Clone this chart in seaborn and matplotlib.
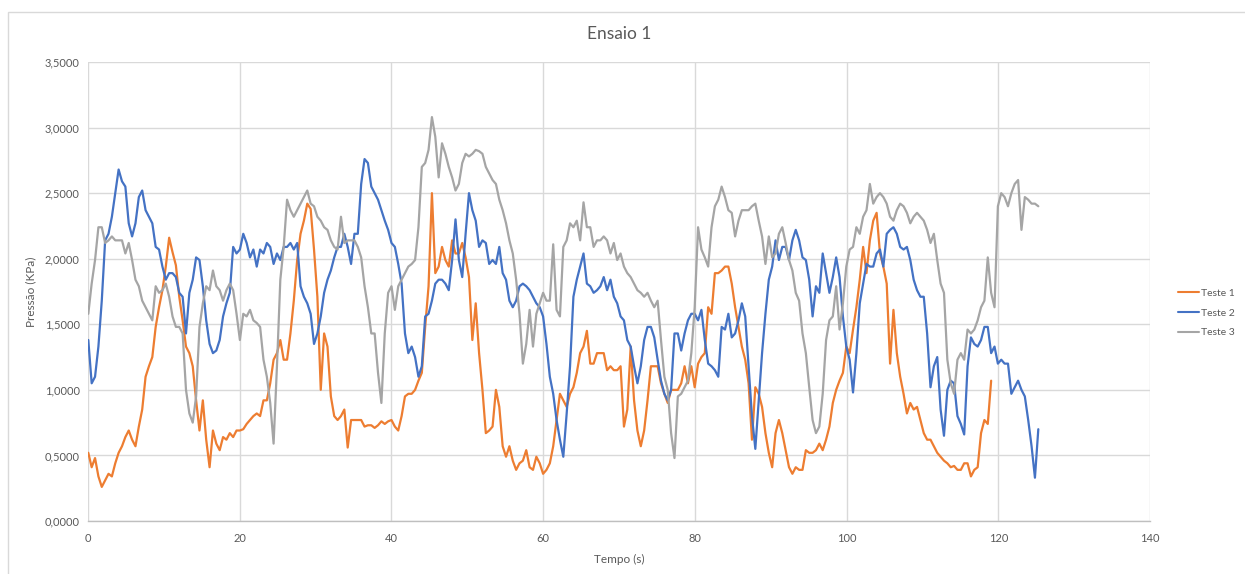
import numpy as np
import pandas as pd
import matplotlib
matplotlib.use("Agg")
import matplotlib.pyplot as plt
from matplotlib.patches import Rectangle
from matplotlib.ticker import FuncFormatter, MultipleLocator
import seaborn as sns

# Sampling of the pressure logger
T0 = 0.04
SAMPLE_INTERVAL = 0.4441

series_names = ["Teste 1", "Teste 2", "Teste 3"]
series_colors = ["#ED7D31", "#4472C4", "#A5A5A5"]

# Pressure readings (kPa)
teste1 = [
    0.52, 0.41, 0.48, 0.34, 0.26, 0.31, 0.36, 0.34, 0.44, 0.52, 0.57, 0.64, 0.69, 0.62, 0.57,
    0.72, 0.85, 1.10, 1.18, 1.25, 1.48, 1.63, 1.76, 1.94, 2.16, 2.05, 1.95, 1.71, 1.53, 1.33,
    1.28, 1.18, 0.92, 0.69, 0.92, 0.62, 0.41, 0.69, 0.59, 0.54, 0.64, 0.62, 0.67, 0.64, 0.69,
    # 20 s
    0.69, 0.70, 0.74, 0.77, 0.80, 0.82, 0.80, 0.92, 0.92, 1.05, 1.23, 1.28, 1.38, 1.23, 1.23,
    1.43, 1.68, 1.99, 2.19, 2.29, 2.42, 2.38, 2.07, 1.71, 1.00, 1.43, 1.33, 0.95, 0.80, 0.77,
    0.80, 0.85, 0.56, 0.77, 0.77, 0.77, 0.77, 0.72, 0.73, 0.73, 0.71, 0.73, 0.76, 0.74, 0.76,
    0.77,
    # 40 s
    0.72, 0.69, 0.80, 0.95, 0.97, 0.97, 1.00, 1.07, 1.13, 1.48, 1.79, 2.50, 1.89, 1.94, 2.09,
    1.99, 1.94, 2.14, 2.04, 2.04, 2.12, 2.01, 1.86, 1.38, 1.66, 1.28, 1.00, 0.67, 0.69, 0.72,
    1.00, 0.87, 0.57, 0.49, 0.57, 0.46, 0.39, 0.44, 0.46, 0.54, 0.41, 0.39, 0.49, 0.44, 0.36,
    0.39,
    # 60 s
    0.44, 0.57, 0.77, 0.97, 0.92, 0.87, 0.97, 1.02, 1.13, 1.28, 1.33, 1.45, 1.20, 1.20, 1.28,
    1.28, 1.28, 1.15, 1.18, 1.15, 1.15, 1.18, 0.72, 0.85, 1.33, 0.92, 0.69, 0.57, 0.69, 0.92,
    1.18, 1.18, 1.18, 1.05, 0.97, 0.90, 1.00, 1.00, 1.00, 1.05, 1.18, 1.05, 1.18, 1.02, 1.20,
    1.25,
    # 80 s
    1.28, 1.63, 1.58, 1.89, 1.89, 1.91, 1.94, 1.94, 1.81, 1.63, 1.48, 1.33, 1.23, 1.05, 0.62,
    1.02, 0.97, 0.87, 0.67, 0.52, 0.41, 0.67, 0.77, 0.67, 0.54, 0.41, 0.36, 0.41, 0.39, 0.39,
    0.54, 0.52, 0.52, 0.54, 0.59, 0.54, 0.62, 0.72, 0.90, 1.00, 1.07, 1.13, 1.33, 1.28, 1.46,
    1.63,
    # 100 s
    1.84, 2.09, 1.89, 2.14, 2.29, 2.35, 2.04, 1.94, 1.81, 1.20, 1.61, 1.28, 1.10, 0.97, 0.82,
    0.90, 0.85, 0.87, 0.77, 0.67, 0.62, 0.62, 0.57, 0.52, 0.49, 0.46, 0.44, 0.41, 0.42, 0.39,
    0.39, 0.44, 0.44, 0.34, 0.39, 0.41, 0.67, 0.77, 0.74, 1.07,
]

teste2 = [
    1.38, 1.05, 1.10, 1.33, 1.68, 2.14, 2.19, 2.32, 2.50, 2.68, 2.59, 2.55, 2.27, 2.17, 2.27,
    2.47, 2.52, 2.37, 2.32, 2.27, 2.09, 2.07, 1.94, 1.84, 1.89, 1.89, 1.86, 1.74, 1.71, 1.43,
    1.74, 1.84, 2.01, 1.99, 1.79, 1.53, 1.35, 1.28, 1.30, 1.38, 1.56, 1.66, 1.74, 2.09, 2.04,
    # 20 s
    2.07, 2.19, 2.12, 2.01, 2.07, 1.94, 2.07, 2.04, 2.12, 2.09, 1.96, 2.04, 1.99, 2.09, 2.09,
    2.12, 2.07, 2.12, 1.79, 1.71, 1.66, 1.58, 1.35, 1.43, 1.56, 1.74, 1.84, 1.91, 2.01, 2.09,
    2.09, 2.19, 2.09, 1.96, 2.19, 2.19, 2.57, 2.76, 2.73, 2.55, 2.50, 2.45, 2.37, 2.29, 2.22,
    2.12,
    # 40 s
    2.09, 1.96, 1.81, 1.43, 1.28, 1.33, 1.25, 1.10, 1.18, 1.56, 1.58, 1.68, 1.81, 1.84, 1.84,
    1.81, 1.76, 1.99, 2.30, 1.99, 1.86, 2.19, 2.50, 2.37, 2.29, 2.09, 2.14, 2.12, 1.96, 1.99,
    1.96, 2.09, 1.89, 1.84, 1.68, 1.63, 1.68, 1.79, 1.81, 1.79, 1.76, 1.71, 1.66, 1.63, 1.56,
    1.35,
    # 60 s
    1.10, 0.97, 0.77, 0.62, 0.49, 0.82, 1.18, 1.71, 1.84, 1.94, 2.04, 1.81, 1.79, 1.74, 1.76,
    1.79, 1.86, 1.76, 1.84, 1.71, 1.66, 1.56, 1.53, 1.38, 1.33, 1.18, 1.05, 1.18, 1.38, 1.48,
    1.48, 1.40, 1.23, 1.07, 0.97, 0.92, 1.00, 1.43, 1.43, 1.30, 1.43, 1.53, 1.58, 1.58, 1.53,
    1.61,
    # 80 s
    1.38, 1.20, 1.18, 1.15, 1.10, 1.48, 1.46, 1.58, 1.40, 1.43, 1.53, 1.66, 1.56, 1.18, 0.80,
    0.55, 0.92, 1.28, 1.58, 1.84, 1.94, 2.14, 1.99, 2.09, 2.09, 1.99, 2.14, 2.22, 2.14, 2.01,
    1.99, 1.84, 1.56, 1.79, 1.74, 2.04, 1.89, 1.74, 1.86, 2.01, 1.86, 1.56, 1.33, 1.23, 0.98,
    1.28,
    # 100 s
    1.66, 1.81, 1.96, 1.94, 1.94, 2.04, 2.07, 1.94, 2.19, 2.22, 2.24, 2.19, 2.09, 2.07, 2.09,
    1.99, 1.84, 1.76, 1.71, 1.71, 1.43, 1.02, 1.18, 1.25, 0.85, 0.65, 1.00, 1.07, 1.05, 0.80,
    0.74, 0.66, 1.18, 1.40, 1.35, 1.33, 1.38, 1.48, 1.48, 1.28, 1.33, 1.20, 1.23, 1.20, 1.20,
    0.97, 1.02, 1.07, 1.00, 0.95, 0.77, 0.57, 0.33, 0.70,
]

teste3 = [
    1.58, 1.81, 1.99, 2.24, 2.24, 2.12, 2.14, 2.17, 2.14, 2.14, 2.14, 2.04, 2.12, 1.99, 1.84,
    1.79, 1.68, 1.63, 1.58, 1.53, 1.79, 1.74, 1.76, 1.81, 1.71, 1.56, 1.48, 1.48, 1.43, 1.00,
    0.82, 0.75, 0.95, 1.48, 1.66, 1.79, 1.76, 1.91, 1.79, 1.76, 1.68, 1.76, 1.81, 1.76, 1.58,
    # 20 s
    1.38, 1.58, 1.56, 1.61, 1.53, 1.51, 1.48, 1.23, 1.10, 0.90, 0.59, 1.18, 1.84, 2.09, 2.45,
    2.37, 2.32, 2.37, 2.42, 2.47, 2.52, 2.42, 2.40, 2.32, 2.29, 2.24, 2.22, 2.14, 2.09, 2.07,
    2.32, 2.12, 2.14, 2.14, 2.14, 2.09, 2.01, 1.79, 1.63, 1.43, 1.43, 1.13, 0.90, 1.43, 1.74,
    1.79,
    # 40 s
    1.61, 1.79, 1.84, 1.89, 1.94, 1.96, 1.99, 2.24, 2.70, 2.73, 2.83, 3.08, 2.93, 2.62, 2.88,
    2.80, 2.70, 2.62, 2.52, 2.57, 2.73, 2.80, 2.78, 2.80, 2.83, 2.82, 2.80, 2.70, 2.65, 2.60,
    2.57, 2.45, 2.37, 2.27, 2.14, 2.04, 1.84, 1.58, 1.20, 1.35, 1.61, 1.33, 1.58, 1.66, 1.74,
    1.68,
    # 60 s
    1.68, 2.11, 1.61, 1.56, 2.09, 2.14, 2.27, 2.24, 2.29, 2.14, 2.43, 2.24, 2.24, 2.09, 2.14,
    2.14, 2.17, 2.14, 2.04, 2.12, 1.99, 2.04, 1.94, 1.89, 1.86, 1.81, 1.76, 1.74, 1.71, 1.74,
    1.68, 1.63, 1.68, 1.38, 1.10, 1.00, 0.67, 0.48, 0.95, 0.97, 1.02, 1.07, 1.28, 1.63, 2.24,
    2.07,
    # 80 s
    2.01, 1.94, 2.24, 2.40, 2.45, 2.55, 2.47, 2.37, 2.35, 2.17, 2.29, 2.37, 2.37, 2.37, 2.40,
    2.42, 2.29, 2.17, 1.96, 2.17, 2.01, 2.04, 2.19, 2.24, 2.12, 1.99, 1.91, 1.74, 1.68, 1.43,
    1.28, 1.02, 0.77, 0.67, 0.72, 0.97, 1.38, 1.53, 1.56, 1.79, 1.46, 1.66, 1.94, 2.07, 2.09,
    2.24,
    # 100 s
    2.19, 2.32, 2.37, 2.57, 2.42, 2.47, 2.50, 2.47, 2.42, 2.32, 2.29, 2.37, 2.42, 2.40, 2.35,
    2.27, 2.32, 2.35, 2.32, 2.29, 2.22, 2.12, 2.19, 1.99, 1.81, 1.74, 1.23, 1.05, 0.97, 1.23,
    1.28, 1.23, 1.46, 1.43, 1.46, 1.53, 1.63, 1.68, 2.01, 1.74, 1.63, 2.40, 2.50, 2.47, 2.40,
    2.50, 2.57, 2.60, 2.22, 2.47, 2.45, 2.42, 2.42, 2.40,
]

x_ticks = [0, 20, 40, 60, 80, 100, 120, 140]
title_text = "Ensaio 1"
x_label = "Tempo (s)"
y_label = "Pressão (KPa)"

# Long-form table for seaborn
frames = []
for name, values in zip(series_names, [teste1, teste2, teste3]):
    t = T0 + SAMPLE_INTERVAL * np.arange(len(values))
    frames.append(pd.DataFrame({"Tempo": t, "Pressao": values, "Serie": name}))
data = pd.concat(frames, ignore_index=True)

sns.set_theme(style="white")
plt.rcParams["font.family"] = ["Lato", "DejaVu Sans"]

W, H = 1245, 574
fig = plt.figure(figsize=(W / 100, H / 100), dpi=100)
fig.patch.set_facecolor("white")

# Chart-area frame
fig.add_artist(Rectangle((8 / W, -0.02), 1.05, 1 - 12 / H + 0.02, transform=fig.transFigure,
                         fill=False, edgecolor="#D9D9D9", linewidth=1.0))

ax = fig.add_axes([88 / W, (H - 521) / H, (1150 - 88) / W, (521 - 62) / H])

sns.lineplot(data=data, x="Tempo", y="Pressao", hue="Serie", hue_order=series_names,
             palette=series_colors, linewidth=1.6, estimator=None, sort=False, ax=ax,
             legend=True)

ax.set_xlim(0, 140)
ax.set_ylim(0, 3.5)
ax.set_xticks(x_ticks)
ax.yaxis.set_major_locator(MultipleLocator(0.5))
ax.yaxis.set_major_formatter(FuncFormatter(lambda v, p: f"{v:.4f}".replace(".", ",")))

grid_color = "#D9D9D9"
ax.grid(True, color=grid_color, linewidth=1.0)
ax.set_axisbelow(True)
for side in ["top", "right", "left"]:
    ax.spines[side].set_visible(False)
ax.spines["bottom"].set_color("#BFBFBF")
ax.spines["bottom"].set_linewidth(1.0)

ax.tick_params(axis="both", length=0, labelsize=8, labelcolor="#595959", pad=9)
ax.tick_params(axis="y", pad=6)

ax.set_xlabel(x_label, fontsize=8.5, color="#595959", labelpad=7)
ax.set_ylabel(y_label, fontsize=8.5, color="#595959", labelpad=6)
fig.text(619 / W, 1 - 34 / H, title_text, ha="center", va="center",
         fontsize=12.5, color="#595959")

leg = ax.legend(loc="center left", bbox_to_anchor=(1178 / W, 1 - 313 / H),
                bbox_transform=fig.transFigure, frameon=False, fontsize=7.5,
                borderpad=0.0, borderaxespad=0.0, handlelength=2.0,
                handletextpad=0.25, labelspacing=1.0)
for txt in leg.get_texts():
    txt.set_color("#595959")
for line in leg.get_lines():
    line.set_linewidth(1.5)

fig.savefig("out.png", dpi=100, facecolor="white")
